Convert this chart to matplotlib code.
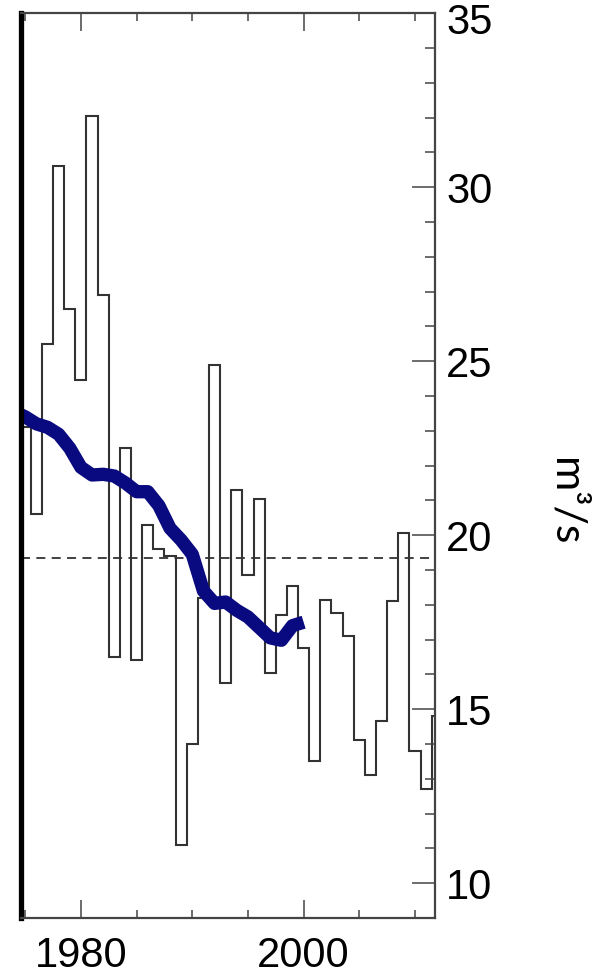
"""Annual mean flow as a stair line, its running mean in navy, long-term mean dashed."""
import numpy as np
import matplotlib
matplotlib.use("Agg")
import matplotlib.pyplot as plt
from matplotlib.ticker import MultipleLocator
from matplotlib.transforms import offset_copy

years = np.arange(1975, 2013)
flow = [23.1, 20.6, 25.5, 30.6, 26.5, 24.45, 32.05, 26.9, 16.5, 22.5,
        16.4, 20.3, 19.6, 19.4, 11.1, 14.0, 18.2, 24.9, 15.75, 21.3,
        18.85, 21.05, 16.05, 17.7, 18.55, 16.75, 13.5, 18.15, 17.75, 17.1,
        14.1, 13.1, 14.65, 18.1, 20.05, 13.8, 12.7, 14.8]

trend_years = np.arange(1974, 2001)
trend = [23.55, 23.4, 23.2, 23.1, 22.9, 22.5, 21.95, 21.73, 21.75, 21.7,
         21.5, 21.25, 21.25, 20.85, 20.2, 19.86, 19.45, 18.4, 18.04, 18.08,
         17.84, 17.65, 17.35, 17.05, 16.98, 17.4, 17.5]

mean_flow = 19.35

TICK_FONT = "Liberation Sans"

fig = plt.figure(figsize=(5.96, 9.8), dpi=100)
ax = fig.add_axes([0.0349, 0.0633, 0.695, 0.9232])

edges = np.append(years - 0.5, years[-1] + 0.5)
ax.stairs(flow, edges, baseline=None, color="#333333", lw=1.5)
ax.axhline(mean_flow, color="#333333", lw=1.3, ls=(0, (5, 3.5)))
ax.plot(trend_years, trend, color="#0a0a80", lw=9.6,
        solid_capstyle="butt", solid_joinstyle="round")

ax.set_xlim(1974.6, 2011.8)
ax.set_ylim(9, 35)

for side in ("top", "right", "bottom"):
    ax.spines[side].set_color("#444444")
    ax.spines[side].set_linewidth(1.6)
ax.spines["left"].set_color("black")
ax.spines["left"].set_linewidth(3.8)

ax.xaxis.set_major_locator(MultipleLocator(20))
ax.xaxis.set_minor_locator(MultipleLocator(5))
ax.yaxis.set_major_locator(MultipleLocator(5))
ax.yaxis.set_minor_locator(MultipleLocator(1))

ax.yaxis.tick_right()
ax.tick_params(axis="x", which="both", direction="in", top=True, bottom=True,
               color="#444444", width=1.1, labelsize=30, pad=13)
ax.tick_params(axis="x", which="major", length=13)
ax.tick_params(axis="x", which="minor", length=6)
ax.tick_params(axis="y", which="both", direction="in", left=False, right=True,
               color="#444444", width=1.1, labelsize=30, pad=8)
ax.tick_params(axis="y", which="major", length=16.5)
ax.tick_params(axis="y", which="minor", length=7.2)

yt = [10, 15, 20, 25, 30, 35]
ax.set_yticks(yt)
ax.set_yticklabels([str(v) if v != 35 else "" for v in yt])
for lab in ax.get_xticklabels() + ax.get_yticklabels():
    lab.set_fontfamily(TICK_FONT)

# the top label sits a little below its tick so it stays inside the picture
ax.text(1, 35, "35", fontsize=30, family=TICK_FONT, ha="left", va="center",
        transform=offset_copy(ax.get_yaxis_transform(), fig=fig,
                              x=11, y=-10, units="dots"))

fig.text(0.948, 0.488, "m³/s", rotation=-90, fontsize=31, family="Lato",
         ha="center", va="center")

fig.savefig("out.png", dpi=100)
